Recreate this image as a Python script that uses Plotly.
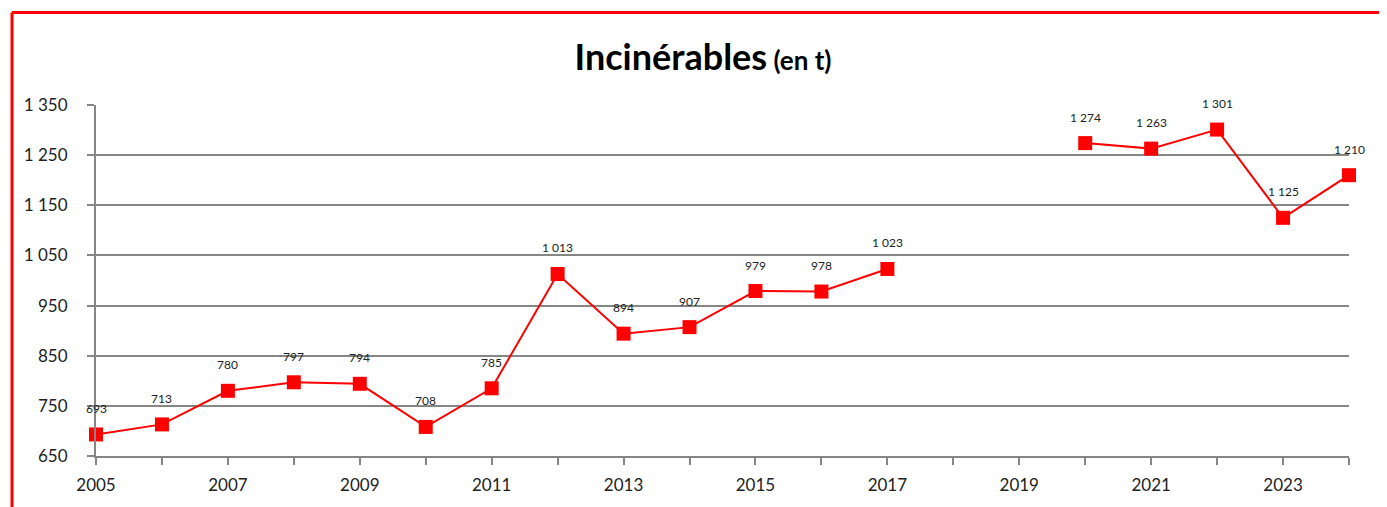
import plotly.graph_objects as go

years = list(range(2005, 2025))
values = [693, 713, 780, 797, 794, 708, 785, 1013, 894, 907, 979, 978, 1023,
          None, None, 1274, 1263, 1301, 1125, 1210]
y_ticks = list(range(650, 1351, 100))
x_labels = list(range(2005, 2024, 2))

def fmt(v):
    return f"{v:,}".replace(",", " ")

# the page body has an 8px margin, so the figure starts at (8, 8)
OFF = 8
W, H = 1387 - OFF, 507 - OFF
L, R, T, B = 96 - OFF, 1387 - 1349, 105 - OFF, 507 - 458
pw, ph = W - L - R, H - T - B

FONT = "Lato, Open Sans, sans-serif"

fig = go.Figure()
fig.add_trace(go.Scatter(
    x=years, y=values, mode="lines+markers",
    line=dict(color="#FF0000", width=2),
    marker=dict(symbol="square", size=14, color="#FF0000"),
    connectgaps=False, showlegend=False, hoverinfo="x+y",
    cliponaxis=False,
))

for x, v in zip(years, values):
    if v is None:
        continue
    fig.add_annotation(x=x, y=v, text=fmt(v), showarrow=False, yshift=26,
                       font=dict(family=FONT, size=12, color="#222222"))

def px_to_paper_x(px):
    return (px - OFF - L) / pw

def px_to_paper_y(py):
    return (H - B - (py - OFF)) / ph

# red frame (top and left)
fig.add_shape(type="line", xref="paper", yref="paper",
              x0=px_to_paper_x(12), x1=px_to_paper_x(1400),
              y0=px_to_paper_y(12), y1=px_to_paper_y(12),
              line=dict(color="#FF0000", width=3))
fig.add_shape(type="line", xref="paper", yref="paper",
              x0=px_to_paper_x(12), x1=px_to_paper_x(12),
              y0=px_to_paper_y(12), y1=px_to_paper_y(520),
              line=dict(color="#FF0000", width=3))

fig.update_layout(
    width=W, height=H,
    margin=dict(l=L, r=R, t=T, b=B),
    paper_bgcolor="white", plot_bgcolor="white",
    title=dict(
        text="<b>Incinérables</b><b><span style='font-size:26px'> (en t)</span></b>",
        x=px_to_paper_x(703), xref="paper", xanchor="center",
        y=1 - (57 - OFF) / H, yanchor="middle",
        font=dict(family=FONT, size=36, color="#000000"),
    ),
    xaxis=dict(
        range=[2005, 2024],
        tickmode="array", tickvals=x_labels, ticktext=[str(v) for v in x_labels],
        ticks="outside", ticklen=7, tickcolor="#868686", tickwidth=2,
        minor=dict(dtick=1, tick0=2005, ticks="outside", ticklen=7,
                   tickcolor="#868686", tickwidth=2, showgrid=False),
        showgrid=False, showline=True, linecolor="#868686", linewidth=2,
        zeroline=False, ticklabelstandoff=6,
        tickfont=dict(family=FONT, size=17, color="#222222"),
    ),
    yaxis=dict(
        range=[650, 1350],
        tickmode="array", tickvals=y_ticks, ticktext=[fmt(v) for v in y_ticks],
        ticks="outside", ticklen=7, tickcolor="#868686", tickwidth=2,
        showgrid=True, gridcolor="#868686", gridwidth=2,
        showline=True, linecolor="#868686", linewidth=2,
        zeroline=False, ticklabelstandoff=16,
        tickfont=dict(family=FONT, size=17, color="#222222"),
    ),
)

fig.write_html("out.html")
